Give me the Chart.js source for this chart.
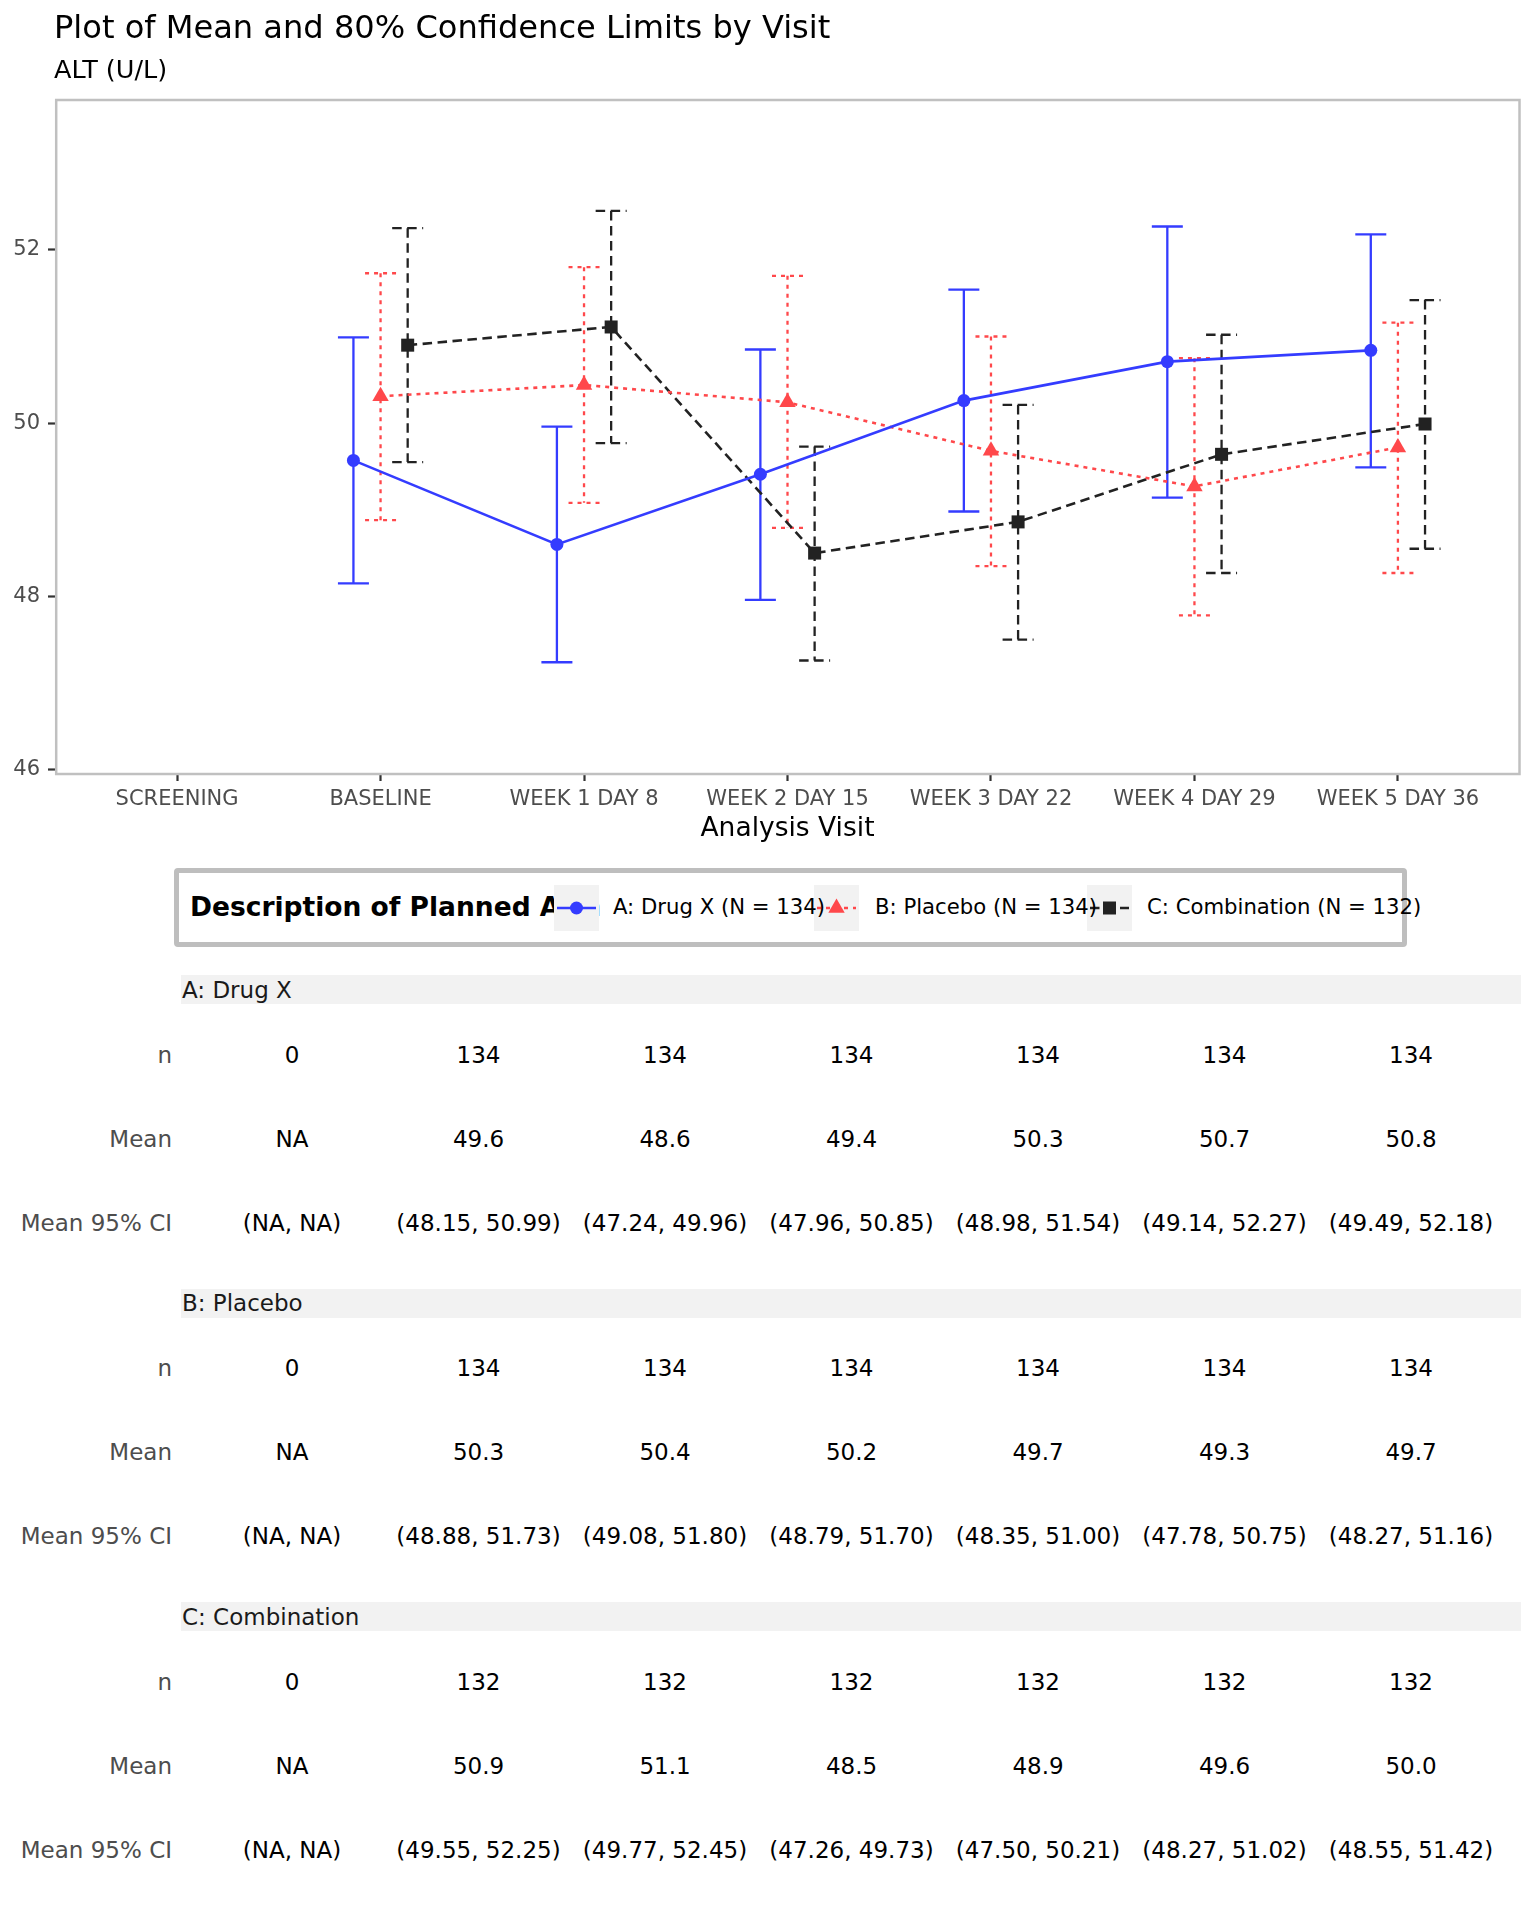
<!DOCTYPE html>
<html lang="en">
<head>
<meta charset="UTF-8">
<title>Plot of Mean and 80% Confidence Limits by Visit</title>
<script src="https://cdn.jsdelivr.net/npm/chart.js"></script>
<style>
  body { margin: 0; background: #fff; }
  #page { position: relative; width: 1536px; height: 1920px; font-family: 'DejaVu Sans', sans-serif; overflow: hidden; }
  #page span { position: absolute; white-space: nowrap; line-height: 1.164; }
  #chart { position: absolute; left: 0; top: 0; }
</style>
</head>
<body>
<div id="page">
  <canvas id="chart" width="1536" height="845"></canvas>
</div>
<script>
  // visits on the x axis
  const visits = ['SCREENING', 'BASELINE', 'WEEK 1 DAY 8', 'WEEK 2 DAY 15', 'WEEK 3 DAY 22', 'WEEK 4 DAY 29', 'WEEK 5 DAY 36'];
  const arms = ['A: Drug X', 'B: Placebo', 'C: Combination'];
  const armN = [134, 134, 132];

  const nA = [0, 134, 134, 134, 134, 134, 134];
  const meanA = [null, 49.57, 48.60, 49.41, 50.26, 50.71, 50.84];
  const lowA = [null, 48.15, 47.24, 47.96, 48.98, 49.14, 49.49];
  const highA = [null, 50.99, 49.96, 50.85, 51.54, 52.27, 52.18];

  const nB = [0, 134, 134, 134, 134, 134, 134];
  const meanB = [null, 50.31, 50.44, 50.24, 49.68, 49.27, 49.72];
  const lowB = [null, 48.88, 49.08, 48.79, 48.35, 47.78, 48.27];
  const highB = [null, 51.73, 51.80, 51.70, 51.00, 50.75, 51.16];

  const nC = [0, 132, 132, 132, 132, 132, 132];
  const meanC = [null, 50.90, 51.11, 48.50, 48.86, 49.64, 49.99];
  const lowC = [null, 49.55, 49.77, 47.26, 47.50, 48.27, 48.55];
  const highC = [null, 52.25, 52.45, 49.73, 50.21, 51.02, 51.42];

  const yTicks = [46, 48, 50, 52];

  const FONT = "'DejaVu Sans', sans-serif";
  Chart.defaults.font.family = FONT;

  const series = [
    { name: arms[0], n: nA, mean: meanA, low: lowA, high: highA, color: '#343CFF', dash: [], shape: 'circle', radius: 6.5, dodge: -0.1333 },
    { name: arms[1], n: nB, mean: meanB, low: lowB, high: highB, color: '#FF484B', dash: [4, 5], shape: 'triangle', radius: 9.5, dodge: 0 },
    { name: arms[2], n: nC, mean: meanC, low: lowC, high: highC, color: '#222222', dash: [9.5, 5.5], shape: 'rect', radius: 9.2, dodge: 0.1333 }
  ];

  const capHalf = 15.5;

  const errorBars = {
    id: 'errorBars',
    beforeDatasetsDraw(chart) {
      const { ctx, scales: { x, y } } = chart;
      series.forEach(s => {
        ctx.save();
        ctx.strokeStyle = s.color;
        ctx.lineWidth = 2.3;
        ctx.setLineDash(s.dash);
        s.mean.forEach((m, i) => {
          if (m == null) return;
          const px = x.getPixelForValue(i + s.dodge);
          const top = y.getPixelForValue(s.high[i]);
          const bot = y.getPixelForValue(s.low[i]);
          ctx.beginPath();
          ctx.moveTo(px - capHalf, top); ctx.lineTo(px + capHalf, top);
          ctx.moveTo(px, top); ctx.lineTo(px, bot);
          ctx.moveTo(px - capHalf, bot); ctx.lineTo(px + capHalf, bot);
          ctx.stroke();
        });
        ctx.restore();
      });
    }
  };

  const panelBorder = {
    id: 'panelBorder',
    afterDraw(chart) {
      const { ctx, chartArea: a } = chart;
      ctx.save();
      ctx.strokeStyle = '#C0C0C0';
      ctx.lineWidth = 2.5;
      ctx.strokeRect(a.left + 1.2, a.top, a.right - a.left - 1.7, a.bottom - a.top);
      ctx.restore();
    }
  };

  new Chart(document.getElementById('chart'), {
    type: 'line',
    data: {
      datasets: series.map(s => ({
        label: s.name,
        data: s.mean.map((m, i) => m == null ? null : { x: i + s.dodge, y: m }).filter(p => p),
        borderColor: s.color,
        backgroundColor: s.color,
        borderWidth: 2.6,
        borderDash: s.dash,
        pointStyle: s.shape,
        pointRadius: s.radius,
        pointBorderWidth: 0,
        tension: 0
      }))
    },
    options: {
      responsive: false,
      animation: false,
      layout: { padding: { top: 100, right: 16, left: 0, bottom: 0 } },
      plugins: { legend: { display: false }, tooltip: { enabled: false } },
      scales: {
        x: {
          type: 'linear', min: -0.6, max: 6.6,
          afterBuildTicks: s => { s.ticks = visits.map((v, i) => ({ value: i })); },
          afterFit: s => { s.height = 71; },
          ticks: { callback: v => visits[v], color: '#4D4D4D', font: { size: 21 }, padding: 5.5, maxRotation: 0, autoSkip: false },
          grid: { drawOnChartArea: false, tickLength: 7, tickColor: '#333333', tickWidth: 2.2 },
          border: { display: false },
          title: { display: true, text: 'Analysis Visit', color: '#000', font: { size: 26.5 }, padding: 0 }
        },
        y: {
          min: 45.95, max: 53.73,
          afterBuildTicks: s => { s.ticks = yTicks.map(v => ({ value: v })); },
          afterFit: s => { s.width = 55; },
          ticks: { color: '#4D4D4D', font: { size: 21 }, padding: 8 },
          grid: { drawOnChartArea: false, tickLength: 7, tickColor: '#333333', tickWidth: 2.2 },
          border: { display: false }
        }
      }
    },
    plugins: [errorBars, panelBorder]
  });

  // html text helpers
  const page = document.getElementById('page');
  function text(str, x, baseline, size, opts = {}) {
    const el = document.createElement('span');
    el.textContent = str;
    el.style.left = x + 'px';
    el.style.top = (baseline - 0.928 * size) + 'px';
    el.style.fontSize = size + 'px';
    el.style.color = opts.color || '#000';
    if (opts.bold) el.style.fontWeight = 'bold';
    if (opts.align === 'center') el.style.transform = 'translateX(-50%)';
    if (opts.align === 'right') el.style.transform = 'translateX(-100%)';
    page.appendChild(el);
    return el;
  }
  function box(x, y, w, h, css) {
    const el = document.createElement('div');
    el.style.position = 'absolute';
    el.style.left = x + 'px'; el.style.top = y + 'px';
    el.style.width = w + 'px'; el.style.height = h + 'px';
    el.style.boxSizing = 'border-box';
    Object.assign(el.style, css);
    page.appendChild(el);
    return el;
  }

  text('Plot of Mean and 80% Confidence Limits by Visit', 54, 39, 32.1);
  text('ALT (U/L)', 54, 79, 25.5);

  // legend
  box(174, 868, 1233, 79, { border: '5px solid #BEBEBE', borderRadius: '4px' });
  text('Description of Planned Arm', 190, 917, 26.5, { bold: true });
  const keyX = [554, 814, 1087];
  const labelX = [613, 875, 1147];
  series.forEach((s, k) => {
    const svgNS = 'http://www.w3.org/2000/svg';
    const svg = document.createElementNS(svgNS, 'svg');
    svg.setAttribute('width', 45); svg.setAttribute('height', 46);
    svg.style.position = 'absolute';
    svg.style.left = keyX[k] + 'px'; svg.style.top = '885px';
    let shape;
    if (s.shape === 'circle') shape = `<circle cx="22.5" cy="23" r="6.5" fill="${s.color}"/>`;
    else if (s.shape === 'triangle') shape = `<polygon points="22.5,13.5 30.7,27.75 14.3,27.75" fill="${s.color}"/>`;
    else shape = `<rect x="16" y="16.5" width="13" height="13" fill="${s.color}"/>`;
    svg.innerHTML = `<rect width="45" height="46" fill="#F2F2F2"/>` +
      `<line x1="3" y1="23" x2="42" y2="23" stroke="${s.color}" stroke-width="2.6" stroke-dasharray="${s.dash.join(' ') || 'none'}"/>` + shape;
    page.appendChild(svg);
  });
  series.forEach((s, k) => text(`${s.name} (N = ${armN[k]})`, labelX[k], 915, 21.2));

  // summary table
  const colX = visits.map((v, i) => 292 + i * 186.5);
  const rowNames = ['n', 'Mean', 'Mean 95% CI'];
  series.forEach((s, k) => {
    const dy = k * 313.5;
    box(181, 975 + dy, 1340, 29, { background: '#F2F2F2' });
    text(s.name, 182, 998 + dy, 23, { color: '#1A1A1A' });
    const rows = [
      s.n.map(v => String(v)),
      s.mean.map(m => m == null ? 'NA' : m.toFixed(1)),
      s.mean.map((m, i) => m == null ? '(NA, NA)' : `(${s.low[i].toFixed(2)}, ${s.high[i].toFixed(2)})`)
    ];
    rows.forEach((vals, r) => {
      const base = 1063 + r * 84 + dy;
      text(rowNames[r], 172, base, 23, { color: '#4D4D4D', align: 'right' });
      vals.forEach((v, i) => text(v, colX[i], base, 23, { align: 'center' }));
    });
  });
</script>
</body>
</html>
